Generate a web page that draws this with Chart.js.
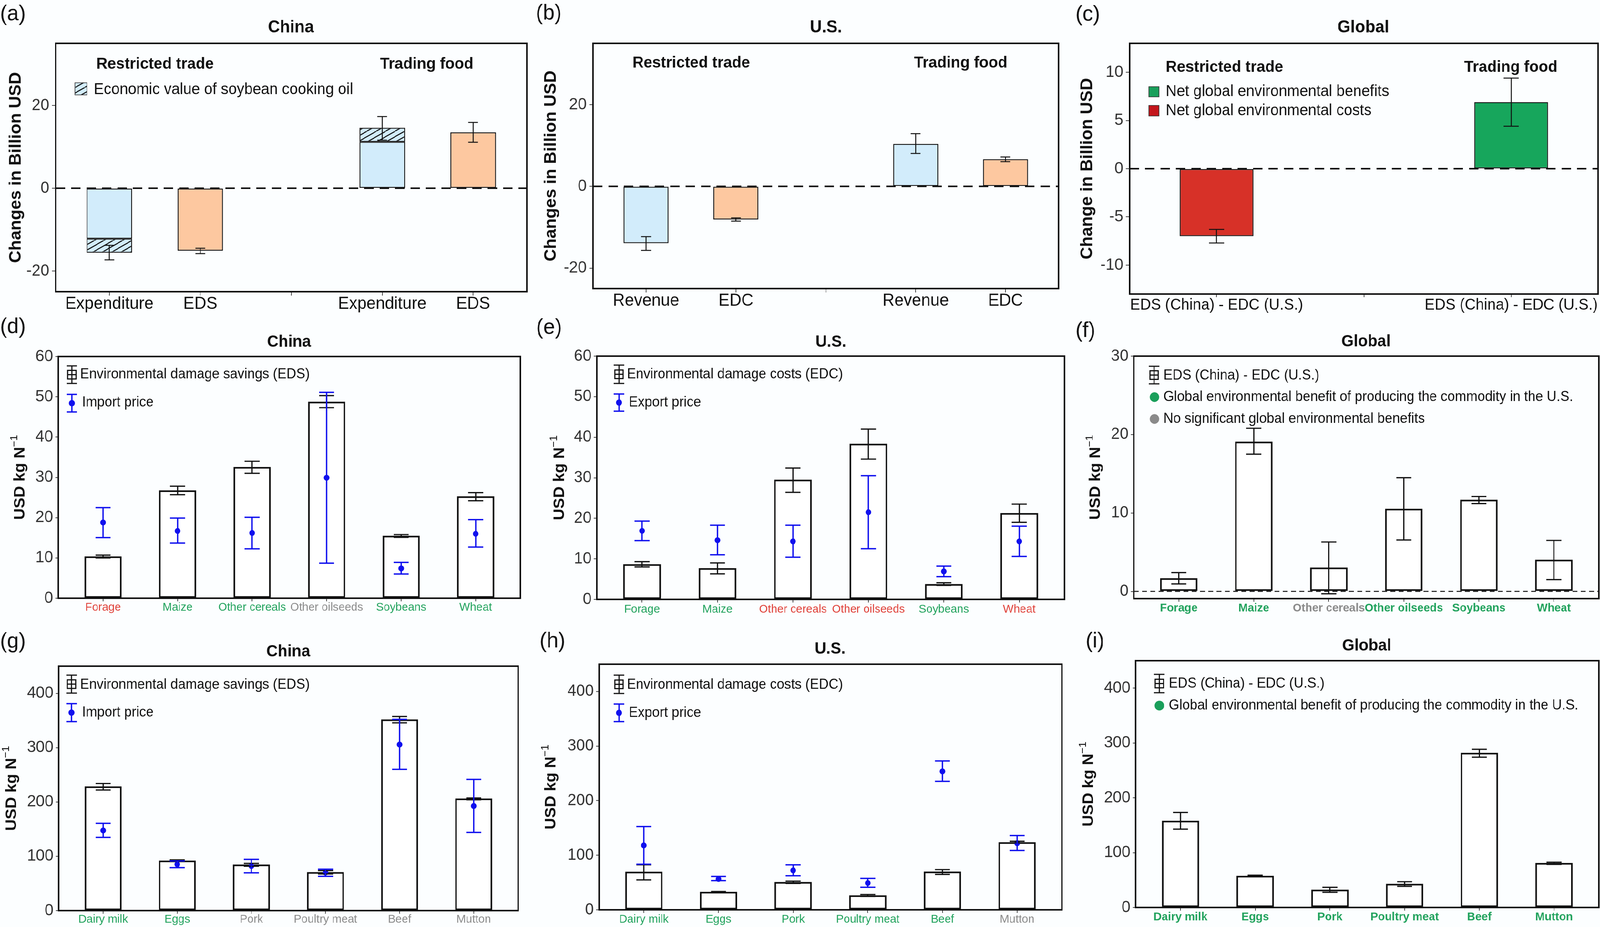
<!DOCTYPE html>
<html>
<head>
<meta charset="utf-8">
<title>Economic values and environmental damage of China-U.S. food trade</title>
<script src="https://cdn.jsdelivr.net/npm/chart.js@4.4.1/dist/chart.umd.min.js"></script>
<style>
  html, body { margin: 0; padding: 0; background: #fcfeff; overflow: hidden; }
  #fig { width: 4252px; height: 2374px; position: relative; transform-origin: 0 0; }
  .cell { position: absolute; }
</style>
</head>
<body>
<div id="fig"></div>
<script>
// ---------- data ----------

// (a) China: restricted trade vs trading food, billion USD
const catsA = ['Expenditure', 'EDS', '', 'Expenditure', 'EDS'];
const posA = [0, 1, 3, 4];
const baseA = [-12.2, -15.1, 11.2, 13.5];
const oilA = [-3.4, null, 3.4, null];          // soybean cooking oil part
const errLoA = [-17.3, -15.8, 11.6, 11.1];
const errHiA = [-13.8, -14.5, 17.3, 15.9];

// (b) U.S.
const catsB = ['Revenue', 'EDC', '', 'Revenue', 'EDC'];
const posB = [0, 1, 3, 4];
const valsB = [-13.9, -8.1, 10.4, 6.65];
const errLoB = [-15.65, -8.5, 8.05, 6.05];
const errHiB = [-12.3, -7.7, 12.9, 7.2];

// (c) Global
const catsC = ['EDS (China) - EDC (U.S.)', '', 'EDS (China) - EDC (U.S.)'];
const posC = [0, 2];
const valsC = [-7.0, 6.9];
const errLoC = [-7.7, 4.4];
const errHiC = [-6.3, 9.4];

// (d)-(f) crops, USD per kg N
const crops = ['Forage', 'Maize', 'Other cereals', 'Other oilseeds', 'Soybeans', 'Wheat'];
const edsCrop = [10.4, 26.8, 32.6, 48.8, 15.5, 25.3];
const edsCropLo = [10.0, 25.7, 31.0, 47.3, 15.1, 24.2];
const edsCropHi = [10.7, 27.8, 34.0, 50.3, 15.8, 26.2];
const importCrop = [18.8, 16.7, 16.2, 29.9, 7.4, 16.0];
const importCropLo = [15.05, 13.7, 12.25, 8.7, 6.0, 12.7];
const importCropHi = [22.5, 19.9, 20.1, 51.1, 8.9, 19.5];
const sigCropD = ['cost', 'benefit', 'benefit', 'ns', 'benefit', 'benefit'];

const edcCrop = [8.7, 7.7, 29.55, 38.4, 3.8, 21.3];
const edcCropLo = [8.0, 6.3, 26.4, 34.6, 3.45, 19.0];
const edcCropHi = [9.3, 9.0, 32.4, 42.0, 4.1, 23.5];
const exportCrop = [16.9, 14.6, 14.3, 21.5, 6.9, 14.3];
const exportCropLo = [14.5, 11.0, 10.4, 12.5, 5.6, 10.6];
const exportCropHi = [19.3, 18.3, 18.3, 30.5, 8.2, 18.05];
const sigCropE = ['benefit', 'benefit', 'cost', 'cost', 'benefit', 'cost'];

const netCrop = [1.7, 19.1, 3.05, 10.55, 11.7, 4.05];
const netCropLo = [0.95, 17.5, -0.3, 6.55, 11.2, 1.5];
const netCropHi = [2.4, 20.8, 6.3, 14.5, 12.1, 6.5];
const sigCropF = ['benefit', 'benefit', 'ns', 'benefit', 'benefit', 'benefit'];

// (g)-(i) animal products, USD per kg N
const meats = ['Dairy milk', 'Eggs', 'Pork', 'Poultry meat', 'Beef', 'Mutton'];
const edsMeat = [228.7, 92.2, 84.8, 70.9, 352, 206.4];
const edsMeatLo = [222, 90.4, 81.6, 67.4, 345.7, 204];
const edsMeatHi = [234, 93.3, 86.9, 73.8, 357.4, 207.4];
const importMeat = [147.5, 85.1, 81.9, 70.2, 305.7, 192.6];
const importMeatLo = [134.8, 79, 69.5, 63.1, 260, 144];
const importMeatHi = [160.6, 91.5, 94.3, 76.2, 352, 241.5];
const sigMeatG = ['benefit', 'benefit', 'ns', 'ns', 'ns', 'ns'];

const edcMeat = [69.9, 33.0, 51.2, 26.7, 70.2, 123.9];
const edcMeatLo = [54.8, 32.5, 48.4, 24.6, 64.9, 122.8];
const edcMeatHi = [82.5, 33.5, 52.6, 28, 73.7, 125.6];
const exportMeat = [118, 56.5, 72.3, 49.1, 253.7, 122.1];
const exportMeatLo = [83.6, 53.4, 62.5, 41.4, 235.4, 108.8];
const exportMeatHi = [152.5, 61.1, 82.5, 57.6, 272.7, 136.1];
const sigMeatH = ['benefit', 'benefit', 'benefit', 'benefit', 'benefit', 'ns'];

const netMeat = [158.2, 57.9, 32.6, 43.2, 282.1, 81.1];
const netMeatLo = [142.8, 56.1, 27.7, 38.6, 274, 78.6];
const netMeatHi = [173.3, 58.9, 36.8, 47.0, 288.4, 82.5];
const sigMeatI = ['benefit', 'benefit', 'benefit', 'benefit', 'benefit', 'benefit'];

// tick labels
const yTicksAB = [-20, 0, 20];
const yTicksC = [-10, -5, 0, 5, 10];
const yTicksCrop = [0, 10, 20, 30, 40, 50, 60];
const yTicksF = [0, 10, 20, 30];
const yTicksMeat = [0, 100, 200, 300, 400];

// ---------- styling ----------
const FONT = '"Liberation Sans", Arial, Helvetica, sans-serif';
const font = (size, bold) => (bold ? 'bold ' : '') + size + 'px ' + FONT;
const INK = '#111';
const BLUE = '#1010ee';
const LIGHT_BLUE = '#d2ecfb';
const ORANGE = '#fdc8a0';
const statusColor = { benefit: '#23a35e', cost: '#e0433b', ns: '#8c8c8c' };

Chart.defaults.font.family = FONT;

// the figure is laid out at 4252x2374; squeeze it into the real viewport
const fig = document.getElementById('fig');
const sx = window.innerWidth / 4252, sy = window.innerHeight / 2374;
fig.style.transform = 'scale(' + sx + ',' + sy + ')';

// cells of the page and the plot box inside each one (figure pixels)
const CELLS = {
  a: [0, 0, 1418, 806], b: [1418, 0, 2838, 806], c: [2838, 0, 4252, 806],
  d: [0, 806, 1418, 1594], e: [1418, 806, 2838, 1594], f: [2838, 806, 4252, 1594],
  g: [0, 1594, 1418, 2374], h: [1418, 1594, 2838, 2374], i: [2838, 1594, 4252, 2374]
};
const BOXES = {
  a: [148, 111, 1400, 747], b: [1576, 111, 2813, 739], c: [3002, 111, 4247, 753],
  d: [155, 913, 1383, 1532], e: [1586, 912, 2829, 1535], f: [3013, 912, 4249, 1533],
  g: [156, 1706, 1377, 2332], h: [1592, 1701, 2822, 2330], i: [3018, 1692, 4249, 2324]
};

const pts = (xs, ys) => ys.map((y, i) => ({ x: xs[i], y }));
const idx = n => Array.from({ length: n }, (_, i) => i);

function hatchPattern(ctx) {
  const tile = document.createElement('canvas');
  tile.width = 50; tile.height = 28;
  const g = tile.getContext('2d');
  g.fillStyle = LIGHT_BLUE;
  g.fillRect(0, 0, 50, 28);
  g.strokeStyle = INK;
  g.lineWidth = 2.6;
  for (let k = -3; k <= 2; k++) {
    g.beginPath();
    g.moveTo(k * 25, 28);
    g.lineTo(k * 25 + 50, 0);
    g.stroke();
  }
  return ctx.createPattern(tile, 'repeat');
}

// ---------- drawing helpers ----------
function drawZero(chart, z) {
  const ctx = chart.ctx, a = chart.chartArea;
  const y = chart.scales.y.getPixelForValue(0);
  ctx.save();
  ctx.strokeStyle = INK;
  ctx.lineWidth = z.width;
  ctx.setLineDash(z.dash);
  ctx.beginPath();
  ctx.moveTo(a.left, y);
  ctx.lineTo(a.right, y);
  ctx.stroke();
  ctx.restore();
}

function drawErrors(chart, e) {
  const ctx = chart.ctx, ys = chart.scales.y;
  const meta = chart.getDatasetMeta(e.dataset);
  ctx.save();
  ctx.strokeStyle = e.color;
  ctx.lineWidth = e.width;
  meta.data.forEach((el, i) => {
    const x = el.x, half = e.cap / 2;
    const yl = ys.getPixelForValue(e.lo[i]);
    const yh = ys.getPixelForValue(e.hi[i]);
    ctx.beginPath();
    ctx.moveTo(x, yl); ctx.lineTo(x, yh);
    ctx.moveTo(x - half, yl); ctx.lineTo(x + half, yl);
    ctx.moveTo(x - half, yh); ctx.lineTo(x + half, yh);
    ctx.stroke();
  });
  ctx.restore();
}

function drawYTitle(ctx, parts, x, y) {
  ctx.save();
  ctx.translate(x, y);
  ctx.rotate(-Math.PI / 2);
  ctx.textAlign = 'left';
  ctx.textBaseline = 'middle';
  ctx.fillStyle = INK;
  let total = 0;
  parts.forEach(p => { ctx.font = p.font; total += ctx.measureText(p.text).width; });
  let cx = -total / 2;
  parts.forEach(p => {
    ctx.font = p.font;
    ctx.fillText(p.text, cx, p.rise ? -p.rise : 0);
    cx += ctx.measureText(p.text).width;
  });
  ctx.restore();
}

function line(ctx, x0, y0, x1, y1) {
  ctx.beginPath(); ctx.moveTo(x0, y0); ctx.lineTo(x1, y1); ctx.stroke();
}

function drawLegendItem(ctx, it, ox, oy) {
  ctx.save();
  const x = it.x - ox;
  if (it.kind === 'hatch' || it.kind === 'square') {
    const y = it.y - oy;
    ctx.fillStyle = it.kind === 'hatch' ? it.fill(ctx) : it.color;
    ctx.fillRect(x, y, it.w, it.h);
    ctx.strokeStyle = '#333';
    ctx.lineWidth = 1.6;
    ctx.strokeRect(x, y, it.w, it.h);
  } else if (it.kind === 'bar-err') {
    const y0 = it.y0 - oy, y1 = it.y1 - oy, mid = (y0 + y1) / 2;
    ctx.strokeStyle = INK;
    ctx.lineWidth = 3;
    line(ctx, x, y0, x, y1);
    line(ctx, x - 14, y0, x + 14, y0);
    line(ctx, x - 14, y1, x + 14, y1);
    ctx.strokeRect(x - 11, mid - 11, 22, 22);
    line(ctx, x - 11, mid, x + 11, mid);
  } else if (it.kind === 'dot-err') {
    const y0 = it.y0 - oy, y1 = it.y1 - oy, mid = (y0 + y1) / 2;
    ctx.strokeStyle = it.color;
    ctx.fillStyle = it.color;
    ctx.lineWidth = 3.5;
    line(ctx, x, y0, x, y1);
    line(ctx, x - 14, y0, x + 14, y0);
    line(ctx, x - 14, y1, x + 14, y1);
    ctx.beginPath(); ctx.arc(x, mid, 8, 0, Math.PI * 2); ctx.fill();
  } else if (it.kind === 'dot') {
    ctx.fillStyle = it.color;
    ctx.beginPath(); ctx.arc(x, it.cy - oy, it.r, 0, Math.PI * 2); ctx.fill();
  }
  ctx.font = it.font;
  ctx.fillStyle = INK;
  ctx.textAlign = 'left';
  ctx.textBaseline = 'middle';
  ctx.fillText(it.text, it.tx - ox, it.ty - oy);
  ctx.restore();
}

const decor = {
  id: 'decor',
  beforeDatasetsDraw(chart, args, o) {
    if (o.zero && !o.zero.front) drawZero(chart, o.zero);
  },
  afterDatasetsDraw(chart, args, o) {
    if (o.zero && o.zero.front) drawZero(chart, o.zero);
    (o.errors || []).forEach(e => drawErrors(chart, e));
  },
  afterDraw(chart, args, o) {
    const ctx = chart.ctx, a = chart.chartArea;
    const [ox, oy] = o.origin;
    ctx.save();
    ctx.strokeStyle = INK;
    ctx.lineWidth = o.boxWidth;
    ctx.strokeRect(a.left, a.top, a.right - a.left, a.bottom - a.top);
    ctx.textBaseline = 'middle';
    (o.texts || []).forEach(t => {
      ctx.font = t.font;
      ctx.fillStyle = t.color || INK;
      ctx.textAlign = t.align || 'center';
      ctx.fillText(t.text, t.x - ox, t.y - oy);
    });
    drawYTitle(ctx, o.yTitle, o.yTitleX - ox, (a.top + a.bottom) / 2);
    (o.legend || []).forEach(it => drawLegendItem(ctx, it, ox, oy));
    ctx.restore();
  }
};

// ---------- panel factory ----------
function makePanel(key, s) {
  const [cx0, cy0, cx1, cy1] = CELLS[key];
  const [bx0, by0, bx1, by1] = BOXES[key];
  const div = document.createElement('div');
  div.className = 'cell';
  div.style.left = cx0 + 'px';
  div.style.top = cy0 + 'px';
  div.style.width = (cx1 - cx0) + 'px';
  div.style.height = (cy1 - cy0) + 'px';
  const canvas = document.createElement('canvas');
  div.appendChild(canvas);
  fig.appendChild(div);
  const ctx = canvas.getContext('2d');

  const d = s.decor;
  d.origin = [cx0, cy0];

  return new Chart(canvas, {
    type: 'bar',
    data: { datasets: s.datasets(ctx) },
    options: {
      responsive: true,
      maintainAspectRatio: false,
      devicePixelRatio: 1,
      animation: false,
      events: [],
      layout: { padding: { left: 0, top: by0 - cy0, right: cx1 - bx1, bottom: 0 } },
      plugins: { legend: { display: false }, tooltip: { enabled: false }, decor: d },
      scales: {
        x: {
          type: 'linear',
          min: s.xMin, max: s.xMax,
          offset: false,
          stacked: s.stacked || false,
          border: { display: false },
          grid: { display: true, offset: false, drawOnChartArea: false, drawTicks: true,
                  tickLength: s.xTick, color: '#444', lineWidth: 2 },
          ticks: {
            autoSkip: false, maxRotation: 0, minRotation: 0,
            padding: s.xPad,
            color: s.xColor,
            font: { size: s.xFont, weight: s.xBold ? 'bold' : 'normal', lineHeight: 1 },
            callback: (v, i) => s.xLabels[i]
          },
          afterBuildTicks: sc => { sc.ticks = s.xTicks.map(v => ({ value: v })); },
          afterFit: sc => { sc.height = cy1 - by1; }
        },
        y: {
          min: s.yMin, max: s.yMax,
          stacked: s.stacked || false,
          border: { display: false },
          grid: { display: true, drawOnChartArea: false, drawTicks: true,
                  tickLength: s.yTick, color: '#444', lineWidth: 2 },
          ticks: {
            padding: s.yPad, color: '#333',
            font: { size: 42, lineHeight: 1 },
            callback: v => String(v)
          },
          afterBuildTicks: sc => { sc.ticks = s.yTicks.map(v => ({ value: v })); },
          afterFit: sc => { sc.width = bx0 - cx0; }
        }
      }
    },
    plugins: [decor]
  });
}

const barStyle = { borderColor: INK, borderSkipped: false, categoryPercentage: 0.5, barPercentage: 1 };
const rowTop = { xTick: 10, yTick: 10, yPad: 7 };
const rowLow = { xTick: 8, yTick: 8, yPad: 6 };
const ytTop = text => [{ text, font: font(44, true) }];
const ytLow = [{ text: 'USD kg N', font: font(41, true) }, { text: '\u22121', font: font(27), rise: 15 }];
const letter = (text, x, y) => ({ text, x, y, font: font(56), align: 'left' });
const title = (text, x, y, size) => ({ text, x, y, font: font(size, true) });
const note = (text, x, y) => ({ text, x, y, font: font(41, true) });

function barErr(x, y0, y1, text, tx, ty) {
  return { kind: 'bar-err', x, y0, y1, text, tx, ty, font: font(36) };
}
function dotErr(x, y0, y1, text, tx, ty) {
  return { kind: 'dot-err', x, y0, y1, color: BLUE, text, tx, ty, font: font(36) };
}
function dot(x, cy, color, text, tx) {
  return { kind: 'dot', x, cy, r: 12.5, color, text, tx, ty: cy, font: font(36) };
}

// (a)
makePanel('a', Object.assign({}, rowTop, {
  stacked: true,
  datasets: ctx => [
    Object.assign({ data: pts(posA, baseA), backgroundColor: [LIGHT_BLUE, ORANGE, LIGHT_BLUE, ORANGE], borderWidth: 2.5 }, barStyle),
    Object.assign({ data: pts(posA, oilA).filter(p => p.y !== null), backgroundColor: hatchPattern(ctx), borderWidth: 2.5 }, barStyle)
  ],
  xMin: -0.59, xMax: 4.59, xTicks: idx(catsA.length), xLabels: catsA, xColor: INK, xFont: 44, xPad: 0,
  yMin: -25, yMax: 35, yTicks: yTicksAB,
  decor: {
    boxWidth: 4,
    zero: { width: 4, dash: [25, 16], front: true },
    errors: [{ dataset: 0, lo: errLoA, hi: errHiA, color: INK, width: 2.5, cap: 26 }],
    yTitle: ytTop('Changes in Billion USD'), yTitleX: 43,
    texts: [letter('(a)', 0, 37), title('China', 773, 71, 44),
            note('Restricted trade', 412, 165), note('Trading food', 1134, 165)],
    legend: [{ kind: 'hatch', fill: hatchPattern, x: 199, y: 212, w: 32, h: 31,
               text: 'Economic value of soybean cooking oil', tx: 249, ty: 230, font: font(40) }]
  }
}));

// (b)
makePanel('b', Object.assign({}, rowTop, {
  datasets: () => [
    Object.assign({ data: pts(posB, valsB), backgroundColor: [LIGHT_BLUE, ORANGE, LIGHT_BLUE, ORANGE], borderWidth: 2.5 }, barStyle)
  ],
  xMin: -0.59, xMax: 4.59, xTicks: idx(catsB.length), xLabels: catsB, xColor: INK, xFont: 44, xPad: 0,
  yMin: -25, yMax: 35, yTicks: yTicksAB,
  decor: {
    boxWidth: 4,
    zero: { width: 4, dash: [25, 16], front: true },
    errors: [{ dataset: 0, lo: errLoB, hi: errHiB, color: INK, width: 2.5, cap: 26 }],
    yTitle: ytTop('Changes in Billion USD'), yTitleX: 1465,
    texts: [letter('(b)', 1424, 35), title('U.S.', 2195, 71, 44),
            note('Restricted trade', 1837, 162), note('Trading food', 2553, 162)]
  }
}));

// (c)
makePanel('c', Object.assign({}, rowTop, {
  datasets: () => [
    Object.assign({ data: pts(posC, valsC), backgroundColor: ['#d73128', '#17a65c'], borderWidth: 2.5 }, barStyle)
  ],
  xMin: -0.59, xMax: 2.59, xTicks: idx(catsC.length), xLabels: catsC, xColor: INK, xFont: 40, xTick: 8, xPad: 1,
  yMin: -13, yMax: 13, yTicks: yTicksC,
  decor: {
    boxWidth: 4,
    zero: { width: 4, dash: [25, 16], front: true },
    errors: [{ dataset: 0, lo: errLoC, hi: errHiC, color: INK, width: 2.5, cap: 40 }],
    yTitle: ytTop('Change in Billion USD'), yTitleX: 2890,
    texts: [letter('(c)', 2858, 38), title('Global', 3623, 71, 44),
            note('Restricted trade', 3254, 173), note('Trading food', 4015, 173)],
    legend: [
      { kind: 'square', color: '#1a9f5b', x: 3053, y: 222, w: 27, h: 26,
        text: 'Net global environmental benefits', tx: 3098, ty: 235, font: font(40) },
      { kind: 'square', color: '#c3161c', x: 3053, y: 270, w: 27, h: 27,
        text: 'Net global environmental costs', tx: 3098, ty: 284, font: font(40) }
    ]
  }
}));

// lower rows: white bars with error bars, optional price points drawn on top
function lowerPanel(key, o) {
  const n = o.labels.length;
  const datasets = () => {
    const list = [Object.assign({ type: 'bar', order: 2, data: pts(idx(n), o.bars), backgroundColor: '#ffffff', borderWidth: 4.5 }, barStyle)];
    if (o.price) {
      list.push({ type: 'line', order: 1, data: pts(idx(n), o.price), showLine: false, pointRadius: 7.5,
                  pointBackgroundColor: BLUE, pointBorderWidth: 0, borderColor: BLUE });
    }
    return list;
  };
  const errors = [{ dataset: 0, lo: o.barLo, hi: o.barHi, color: INK, width: 3.2, cap: 40 }];
  if (o.price) errors.push({ dataset: 1, lo: o.priceLo, hi: o.priceHi, color: BLUE, width: 3.5, cap: 40 });
  makePanel(key, Object.assign({}, rowLow, {
    datasets,
    xMin: -0.6, xMax: n - 0.4, xTicks: idx(n), xLabels: o.labels,
    xColor: c => statusColor[o.sig[c.index]], xFont: 30, xBold: o.bold, xPad: o.xPad,
    yMin: o.yMin, yMax: o.yMax, yTicks: o.yTicks,
    decor: {
      boxWidth: 4,
      zero: o.zero,
      errors,
      yTitle: ytLow, yTitleX: o.yTitleX,
      texts: o.texts,
      legend: o.legend
    }
  }));
}

lowerPanel('d', {
  labels: crops, bars: edsCrop, barLo: edsCropLo, barHi: edsCropHi,
  price: importCrop, priceLo: importCropLo, priceHi: importCropHi, sig: sigCropD,
  yMin: 0, yMax: 60, yTicks: yTicksCrop, xPad: 1, yTitleX: 54,
  texts: [letter('(d)', 0, 838), title('China', 768, 876, 42)],
  legend: [barErr(191, 937, 982, 'Environmental damage savings (EDS)', 213, 959),
           dotErr(191, 1010, 1055, 'Import price', 218, 1031)]
});

lowerPanel('e', {
  labels: crops, bars: edcCrop, barLo: edcCropLo, barHi: edcCropHi,
  price: exportCrop, priceLo: exportCropLo, priceHi: exportCropHi, sig: sigCropE,
  yMin: 0, yMax: 60, yTicks: yTicksCrop, xPad: 3, yTitleX: 1488,
  texts: [letter('(e)', 1425, 840), title('U.S.', 2208, 876, 42)],
  legend: [barErr(1645, 935, 982, 'Environmental damage costs (EDC)', 1666, 959),
           dotErr(1645, 1009, 1053, 'Export price', 1671, 1031)]
});

lowerPanel('f', {
  labels: crops, bars: netCrop, barLo: netCropLo, barHi: netCropHi, sig: sigCropF, bold: true,
  yMin: -0.92, yMax: 30, yTicks: yTicksF, xPad: 2, yTitleX: 2912,
  zero: { width: 2.5, dash: [13, 9], front: false },
  texts: [letter('(f)', 2858, 848), title('Global', 3630, 875, 42)],
  legend: [barErr(3067, 938, 983, 'EDS (China) - EDC (U.S.)', 3092, 962),
           dot(3068, 1017, '#1a9f5b', 'Global environmental benefit of producing the commodity in the U.S.', 3092),
           dot(3068, 1073, '#8a8a8a', 'No significant global environmental benefits', 3092)]
});

lowerPanel('g', {
  labels: meats, bars: edsMeat, barLo: edsMeatLo, barHi: edsMeatHi,
  price: importMeat, priceLo: importMeatLo, priceHi: importMeatHi, sig: sigMeatG,
  yMin: 0, yMax: 450, yTicks: yTicksMeat, xPad: 0, yTitleX: 32,
  texts: [letter('(g)', 0, 1644), title('China', 766, 1669, 42)],
  legend: [barErr(190, 1729, 1775, 'Environmental damage savings (EDS)', 213, 1754),
           dotErr(190, 1802, 1848, 'Import price', 218, 1825)]
});

lowerPanel('h', {
  labels: meats, bars: edcMeat, barLo: edcMeatLo, barHi: edcMeatHi,
  price: exportMeat, priceLo: exportMeatLo, priceHi: exportMeatHi, sig: sigMeatH,
  yMin: 0, yMax: 450, yTicks: yTicksMeat, xPad: 2, yTitleX: 1465,
  texts: [letter('(h)', 1434, 1643), title('U.S.', 2206, 1662, 42)],
  legend: [barErr(1645, 1729, 1776, 'Environmental damage costs (EDC)', 1666, 1754),
           dotErr(1645, 1803, 1848, 'Export price', 1671, 1826)]
});

lowerPanel('i', {
  labels: meats, bars: netMeat, barLo: netMeatLo, barHi: netMeatHi, sig: sigMeatI, bold: true,
  yMin: 0, yMax: 450, yTicks: yTicksMeat, xPad: 2, yTitleX: 2894,
  texts: [letter('(i)', 2885, 1643), title('Global', 3632, 1654, 42)],
  legend: [barErr(3081, 1727, 1774, 'EDS (China) - EDC (U.S.)', 3106, 1751),
           dot(3081, 1807, '#1a9f5b', 'Global environmental benefit of producing the commodity in the U.S.', 3106)]
});
</script>
</body>
</html>
